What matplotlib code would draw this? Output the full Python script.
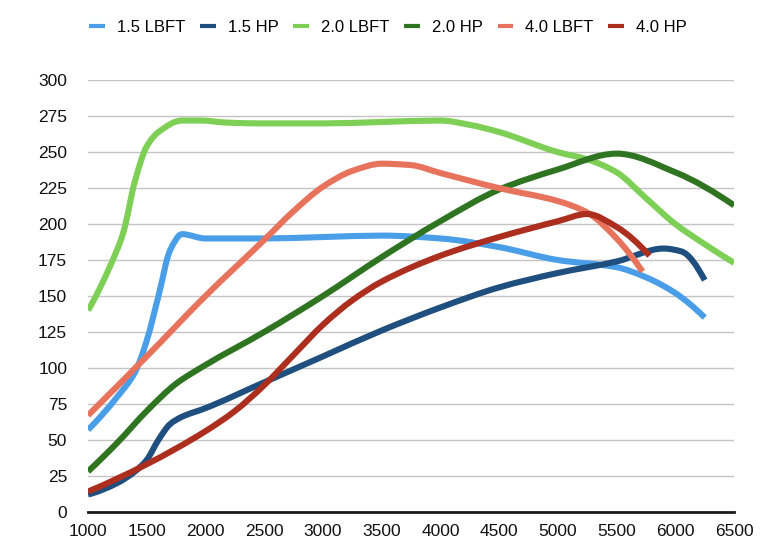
import numpy as np
import matplotlib
matplotlib.use("Agg")
import matplotlib.pyplot as plt
from matplotlib.path import Path
from matplotlib.patches import PathPatch
from matplotlib.lines import Line2D

plt.rcParams['font.family'] = ['Liberation Sans', 'DejaVu Sans']

# ---- data (rpm, value) ----
lbft15_x = [1000, 1250, 1400, 1500, 1600, 1700, 1800, 2000, 2500, 3000, 3500, 4000, 4500, 5000, 5500, 5750, 6000, 6250]
lbft15_y = [57, 80, 97, 119, 150, 182, 193, 190, 190, 191, 192, 190, 184, 175, 170, 163, 152, 135]

hp15_x = [1000, 1250, 1400, 1500, 1600, 1700, 1800, 2000, 2500, 3000, 3500, 4000, 4500, 5000, 5500, 5900, 6050, 6250]
hp15_y = [12, 20, 28, 36, 50, 61, 66, 72, 90, 108, 126, 142, 156, 166, 174, 183, 181, 161]

lbft20_x = [1000, 1200, 1300, 1400, 1500, 1600, 1800, 1950, 2200, 2500, 3000, 3500, 4000, 4250, 4500, 5000, 5250, 5500, 5750, 6000, 6250, 6500]
lbft20_y = [140, 173, 194, 230, 254, 264, 272, 272, 270.5, 270, 270, 271, 272, 269, 264, 250, 245, 236, 218, 200, 186, 173]

hp20_x = [1000, 1250, 1500, 1750, 2000, 2500, 3000, 3500, 4000, 4500, 5000, 5500, 6000, 6500]
hp20_y = [28, 48, 70, 89, 102, 125, 150, 177, 202, 224, 238, 249, 236, 213]

lbft40_x = [1000, 1500, 2000, 2500, 2750, 3000, 3250, 3500, 3750, 4000, 4500, 5000, 5250, 5500, 5720]
lbft40_y = [67, 108, 150, 189, 209, 226, 237, 242, 241, 235.5, 225, 216, 208, 190, 167]

hp40_x = [1000, 1500, 2000, 2250, 2500, 2750, 3000, 3250, 3500, 4000, 4500, 5000, 5250, 5500, 5780]
hp40_y = [14, 33, 56, 70, 88, 109, 130, 147, 160, 178, 191, 202, 207, 198, 178]

names = ['1.5 LBFT', '1.5 HP', '2.0 LBFT', '2.0 HP', '4.0 LBFT', '4.0 HP']
colors = ['#4a9ee8', '#1f4f7e', '#7dcf55', '#2f7421', '#e8735d', '#ac2e1f']
series = [(lbft15_x, lbft15_y), (hp15_x, hp15_y), (lbft20_x, lbft20_y),
          (hp20_x, hp20_y), (lbft40_x, lbft40_y), (hp40_x, hp40_y)]

x_ticks = [1000, 1500, 2000, 2500, 3000, 3500, 4000, 4500, 5000, 5500, 6000, 6500]
y_ticks = [0, 25, 50, 75, 100, 125, 150, 175, 200, 225, 250, 275, 300]


def pchip_slopes(x, y):
    """Shape-preserving (Fritsch-Carlson) derivatives through (x, y)."""
    h = np.diff(x)
    d = np.diff(y) / h
    n = len(x)
    m = np.zeros(n)
    for k in range(1, n - 1):
        if d[k - 1] * d[k] <= 0:
            m[k] = 0.0
        else:
            w1 = 2 * h[k] + h[k - 1]
            w2 = h[k] + 2 * h[k - 1]
            m[k] = (w1 + w2) / (w1 / d[k - 1] + w2 / d[k])

    def end(h0, h1, d0, d1):
        s = ((2 * h0 + h1) * d0 - h0 * d1) / (h0 + h1)
        if np.sign(s) != np.sign(d0):
            return 0.0
        if np.sign(d0) != np.sign(d1) and abs(s) > abs(3 * d0):
            return 3 * d0
        return s

    m[0] = end(h[0], h[1], d[0], d[1])
    m[-1] = end(h[-1], h[-2], d[-1], d[-2])
    return m


def smooth_path(xs, ys):
    x = np.asarray(xs, float)
    y = np.asarray(ys, float)
    m = pchip_slopes(x, y)
    verts = [(x[0], y[0])]
    codes = [Path.MOVETO]
    for i in range(len(x) - 1):
        h = x[i + 1] - x[i]
        verts += [(x[i] + h / 3, y[i] + m[i] * h / 3),
                  (x[i + 1] - h / 3, y[i + 1] - m[i + 1] * h / 3),
                  (x[i + 1], y[i + 1])]
        codes += [Path.CURVE4] * 3
    return Path(verts, codes)


fig = plt.figure(figsize=(7.76, 5.59), dpi=100)
ax = fig.add_axes([0.1134, 0.0846, 0.8326, 0.7718])

for (xs, ys), c in zip(series, colors):
    p = PathPatch(smooth_path(xs, ys), facecolor='none', edgecolor=c,
                  lw=4.4, capstyle='butt', joinstyle='round', zorder=3)
    ax.add_patch(p)

ax.set_xlim(1000, 6500)
ax.set_ylim(0, 300)
ax.set_xticks(x_ticks)
ax.set_yticks(y_ticks)
ax.set_xticklabels([str(v) for v in x_ticks])
ax.set_yticklabels([str(v) for v in y_ticks])
ax.tick_params(axis='both', length=0, labelsize=12.5, colors='#111111')
ax.tick_params(axis='y', pad=15)
ax.tick_params(axis='x', pad=9)
ax.yaxis.grid(True, color='#c4c4c4', lw=1.0, zorder=0)
ax.set_axisbelow(True)
for s in ['left', 'right', 'top']:
    ax.spines[s].set_visible(False)
ax.spines['bottom'].set_color('#1a1a1a')
ax.spines['bottom'].set_linewidth(2.0)
ax.spines['bottom'].set_zorder(4)

handles = [Line2D([0], [0], color=c, lw=3.0, solid_capstyle='butt') for c in colors]
fig.legend(handles, names, loc='center', bbox_to_anchor=(0.5, 1 - 27 / 559), ncol=6,
           frameon=False, fontsize=12, handlelength=0.95, handletextpad=0.7,
           columnspacing=0.9, borderaxespad=0)

fig.savefig('out.png', dpi=100)
